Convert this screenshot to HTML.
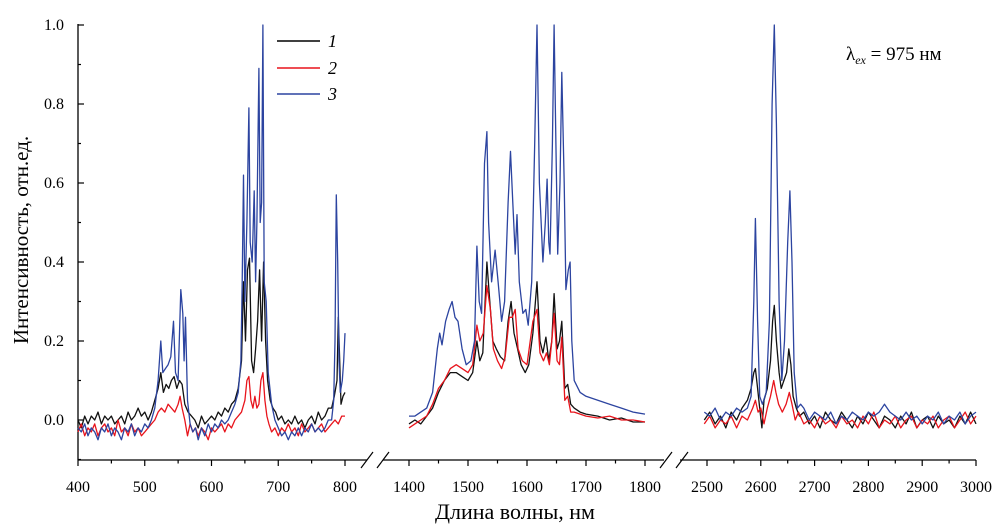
<!DOCTYPE html>
<html><head><meta charset="utf-8"><style>
html,body{margin:0;padding:0;background:#fff;}
svg{display:block;font-family:"Liberation Serif",serif;}
</style></head><body>
<svg id="chart" width="1004" height="527" viewBox="0 0 1004 527">
<g id="axes"></g>
<g id="series"></g>
<g>
<line x1="277" y1="41" x2="320" y2="41" stroke="#000" stroke-width="1.5"/>
<text x="328" y="47" font-size="18" font-style="italic">1</text>
<line x1="277" y1="68" x2="320" y2="68" stroke="#e8141c" stroke-width="1.5"/>
<text x="328" y="74" font-size="18" font-style="italic">2</text>
<line x1="277" y1="94" x2="320" y2="94" stroke="#2c44a0" stroke-width="1.5"/>
<text x="328" y="100" font-size="18" font-style="italic">3</text>
</g>
<text x="846" y="60" font-size="19">λ<tspan font-size="12" font-style="italic" dy="4">ex</tspan><tspan dy="-4"> = 975 нм</tspan></text>
<text x="515" y="519" font-size="22" text-anchor="middle">Длина волны, нм</text>
<text transform="translate(28,240) rotate(-90)" font-size="21" text-anchor="middle">Интенсивность, отн.ед.</text>
</svg>
<script>
const segments=[[400,800,78,345],[1400,1800,409,645],[2500,3000,707,976]];
const yTicks=[0.0,0.2,0.4,0.6,0.8,1.0];
const xTicks1=[400,500,600,700,800];
const xTicks2=[1400,1500,1600,1700,1800];
const xTicks3=[2500,2600,2700,2800,2900,3000];
const wlBlack=[400,405,410,415,420,425,430,435,440,445,450,455,460,465,470,475,480,485,490,495,500,505,510,515,520,524,528,532,536,540,544,548,552,556,560,565,570,575,580,585,590,595,600,605,610,615,620,625,630,635,640,645,648,651,654,657,660,663,666,669,672,675,678,681,684,688,692,696,700,705,710,715,720,725,730,735,740,745,750,755,760,765,770,775,780,784,788,790,792,794,797,800,
1400,1410,1420,1430,1440,1450,1460,1470,1480,1490,1500,1508,1515,1520,1525,1532,1537,1542,1548,1555,1562,1568,1573,1578,1584,1590,1597,1603,1610,1617,1622,1627,1632,1637,1642,1646,1651,1655,1659,1664,1669,1674,1680,1690,1700,1720,1740,1760,1780,1800,
2495,2505,2515,2525,2535,2545,2555,2565,2575,2582,2587,2590,2594,2598,2602,2606,2612,2618,2622,2625,2629,2634,2638,2643,2648,2652,2656,2660,2666,2672,2680,2690,2700,2710,2720,2730,2740,2750,2760,2770,2780,2790,2800,2810,2820,2830,2840,2850,2860,2870,2880,2890,2900,2910,2920,2930,2940,2950,2960,2970,2980,2990,3000];
const valBlack=[0,-.02,.01,-.01,.01,0,.02,-.01,.01,0,.01,-.01,0,.01,-.01,.02,0,.01,.03,.01,.02,0,.02,.05,.08,.12,.07,.09,.08,.1,.11,.08,.1,.09,.04,.02,.01,0,-.02,.01,-.01,0,.01,0,.02,.01,.03,.02,.04,.05,.08,.15,.35,.2,.38,.41,.15,.12,.18,.25,.38,.2,.40,.2,.1,.05,.03,.02,0,.01,-.01,0,-.01,.01,-.01,0,-.02,0,.01,-.01,.02,0,.01,.03,.03,.06,.1,.26,.15,.04,.06,.07,
-.01,0,-.01,.01,.03,.07,.1,.12,.12,.11,.1,.12,.2,.15,.17,.40,.3,.2,.18,.16,.15,.25,.30,.22,.18,.14,.12,.14,.22,.35,.2,.17,.21,.15,.2,.32,.18,.2,.25,.08,.09,.04,.03,.02,.015,.01,0,.005,-.005,-.005,
0,.02,-.01,.01,-.02,.02,0,.03,.05,.08,.12,.13,.08,.03,-.02,.05,.08,.15,.25,.29,.2,.12,.08,.1,.12,.18,.14,.06,.03,.01,.02,-.01,.01,-.02,.02,0,-.01,.02,0,-.02,.01,-.01,.02,0,-.02,.01,0,-.02,.01,-.01,.02,-.02,0,.01,-.02,.01,-.01,0,-.02,.01,-.01,.02,-.01];
const wlRed=[400,405,410,415,420,425,430,435,440,445,450,455,460,465,470,475,480,485,490,495,500,505,510,515,520,525,530,535,540,545,550,553,556,560,564,568,572,576,580,585,590,595,600,605,610,615,620,625,630,635,640,645,650,653,656,659,662,665,668,671,674,677,680,683,686,690,695,700,705,710,715,720,725,730,735,740,745,750,755,760,765,770,775,780,785,790,795,800,
1400,1410,1420,1430,1440,1450,1460,1470,1480,1490,1500,1508,1515,1520,1526,1532,1538,1543,1550,1557,1563,1570,1575,1580,1585,1592,1600,1610,1617,1622,1628,1633,1638,1642,1646,1651,1655,1659,1664,1669,1674,1680,1700,1720,1740,1760,1780,1800,
2495,2505,2515,2525,2535,2545,2555,2565,2575,2585,2590,2595,2600,2606,2612,2618,2624,2628,2633,2640,2647,2653,2658,2664,2670,2680,2690,2700,2710,2720,2730,2740,2750,2760,2770,2780,2790,2800,2810,2820,2830,2840,2850,2860,2870,2880,2890,2900,2910,2920,2930,2940,2950,2960,2970,2980,2990,3000];
const valRed=[-.03,-.01,-.04,-.02,-.03,-.01,-.04,-.02,-.01,-.03,-.02,-.04,0,-.03,-.02,-.04,-.01,-.03,-.02,-.04,-.03,-.02,-.01,0,.02,.03,.02,.04,.03,.02,.04,.06,.03,0,-.04,-.01,-.03,-.02,-.04,-.02,-.03,-.05,-.02,-.03,-.02,-.01,-.03,-.01,-.02,0,.01,.02,.05,.1,.11,.05,.03,.06,.03,.04,.1,.12,.05,.01,-.01,-.03,-.02,-.04,-.02,-.03,-.01,-.03,-.02,-.04,-.01,-.03,-.02,-.01,-.03,-.02,-.01,-.03,-.02,-.01,0,-.01,.01,.01,
-.02,-.01,0,.01,.04,.08,.1,.13,.14,.13,.12,.14,.24,.2,.22,.34,.28,.18,.15,.13,.16,.26,.26,.28,.18,.15,.14,.25,.28,.17,.15,.17,.14,.2,.27,.15,.14,.21,.05,.06,.02,.02,.01,.005,.01,0,0,-.005,
-.01,.01,-.02,0,-.01,.01,-.02,.01,0,.03,.05,.02,.03,-.01,.03,.06,.1,.07,.04,.02,.04,.07,.04,0,.02,-.01,0,-.02,.01,-.01,0,-.02,.01,-.01,0,-.02,.01,-.01,.02,-.02,0,-.01,.01,-.02,0,.01,-.02,0,-.01,.01,-.02,0,.01,-.02,0,.02,-.01,.01];
const wlBlue=[400,405,410,415,420,425,430,435,440,445,450,455,460,465,470,475,480,485,490,495,500,505,510,515,520,524,527,531,535,539,543,546,550,554,557,559,561,564,568,572,576,580,585,590,595,600,605,610,615,620,625,630,635,640,644,646,648,650,653,656,658,661,664,666,668,671,673,675,677,679,682,685,690,695,700,705,710,715,720,725,730,735,740,745,750,755,760,765,770,775,780,783,785,787,789,791,793,796,798,800,
1400,1410,1420,1430,1440,1448,1452,1456,1462,1468,1473,1478,1483,1490,1497,1505,1511,1515,1519,1523,1528,1532,1535,1540,1546,1551,1557,1562,1568,1572,1576,1580,1583,1587,1593,1598,1602,1608,1613,1617,1621,1627,1631,1634,1637,1639,1643,1646,1649,1652,1656,1659,1663,1666,1670,1673,1676,1680,1690,1700,1720,1740,1760,1780,1800,
2495,2505,2515,2525,2535,2545,2555,2565,2575,2582,2587,2590,2594,2598,2603,2610,2616,2621,2625,2629,2634,2639,2644,2650,2654,2658,2662,2668,2674,2680,2690,2700,2710,2720,2730,2740,2750,2760,2770,2780,2790,2800,2810,2820,2830,2840,2850,2860,2870,2880,2890,2900,2910,2920,2930,2940,2950,2960,2970,2980,2990,3000];
const valBlue=[-.02,-.03,-.01,-.04,-.02,-.03,-.05,-.02,-.03,-.01,-.04,-.02,-.03,-.05,-.02,-.03,-.01,-.04,-.02,-.03,-.01,-.02,0,.03,.1,.2,.12,.13,.14,.16,.25,.12,.1,.33,.27,.15,.26,.05,-.01,-.03,-.02,-.05,-.02,-.04,-.01,-.03,-.01,-.02,0,-.01,0,.02,.04,.07,.15,.35,.62,.3,.5,.79,.45,.4,.58,.35,.5,.89,.5,.55,1.0,.35,.3,.12,.04,0,-.02,-.04,-.03,-.05,-.03,-.04,-.02,-.04,-.02,-.03,-.01,-.03,-.02,-.03,-.02,0,0,.05,.2,.57,.4,.15,.07,.1,.15,.22,
.01,.01,.02,.03,.07,.18,.22,.19,.25,.28,.30,.26,.25,.18,.14,.15,.2,.44,.3,.27,.65,.73,.5,.35,.43,.35,.25,.3,.55,.68,.55,.42,.52,.35,.27,.28,.24,.35,.7,1.0,.6,.4,.5,.61,.45,.42,.7,1.0,.7,.42,.6,.88,.6,.33,.38,.40,.2,.1,.07,.06,.05,.04,.03,.02,.015,
.02,.01,.03,0,.02,.01,.03,.02,.03,.06,.3,.51,.25,.06,.04,.07,.25,.8,1.0,.75,.3,.1,.2,.45,.58,.4,.12,.03,.04,.03,0,.02,.01,0,.02,-.01,.01,0,.02,.01,0,.02,.01,.02,.04,.02,.01,0,.02,0,.01,-.01,.01,0,.02,-.01,.01,0,.02,-.01,.01,.02];

const NS='http://www.w3.org/2000/svg';
const Y0=420,YS=395,AXY=460;
function yPx(v){return Y0-v*YS;}
function segOf(w){for(let i=0;i<segments.length;i++){const s=segments[i];if(w>=s[0]-10&&w<=s[1]+10)return i;}return -1;}
function xPx(w){const s=segments[segOf(w)];return s[2]+(w-s[0])*(s[3]-s[2])/(s[1]-s[0]);}
function mk(tag,attrs,parent){const e=document.createElementNS(NS,tag);for(const k in attrs)e.setAttribute(k,attrs[k]);parent.appendChild(e);return e;}
const axes=document.getElementById('axes');
const yAxis=mk('line',{x1:78,y1:24,x2:78,y2:AXY,stroke:'#000','stroke-width':1.3},axes);


for(let v=-0.1;v<=1.0001;v+=0.1){const major=yTicks.some(t=>Math.abs(t-v)<1e-6);const t=mk('line',{x1:78,y1:yPx(v),x2:78+(major?6:3),y2:yPx(v),stroke:'#000','stroke-width':1.2},axes);

}
yTicks.forEach(v=>{const t=mk('text',{x:64,y:yPx(v)+5,'font-size':16,'text-anchor':'end'},axes);t.textContent=v.toFixed(1);

});
const axisSpans=[[78,367],[383,664],[680,976]];
axisSpans.forEach(a=>{const l=mk('line',{x1:a[0],y1:AXY,x2:a[1],y2:AXY,stroke:'#000','stroke-width':1.3},axes);

});
[[361,373],[377,389],[660,672],[676,688]].forEach(b=>{const l=mk('line',{x1:b[0],y1:468,x2:b[1],y2:452,stroke:'#000','stroke-width':1.2},axes);

});
[xTicks1,xTicks2,xTicks3].forEach(ticks=>{ticks.forEach((w,i)=>{const x=xPx(w);const t=mk('line',{x1:x,y1:AXY,x2:x,y2:AXY+6,stroke:'#000','stroke-width':1.2},axes);


const lb=mk('text',{x:x,y:AXY+32,'font-size':16,'text-anchor':'middle'},axes);lb.textContent=w;


if(i<ticks.length-1){const xm=xPx(w+50);const m=mk('line',{x1:xm,y1:AXY,x2:xm,y2:AXY+3.5,stroke:'#000','stroke-width':1.2},axes);

}});});
const ser=document.getElementById('series');
function draw(wl,val,color,name){let d='';let prev=-2;for(let i=0;i<wl.length;i++){const s=segOf(wl[i]);d+=(s!==prev?'M':'L')+xPx(wl[i]).toFixed(1)+','+yPx(val[i]).toFixed(1);prev=s;}
const p=mk('path',{d:d,fill:'none',stroke:color,'stroke-width':1.3,'stroke-linejoin':'round'},ser);

}
draw(wlBlack,valBlack,'#111','series-1-line');
draw(wlRed,valRed,'#e8141c','series-2-line');
draw(wlBlue,valBlue,'#2c44a0','series-3-line');
</script>
</body></html>
